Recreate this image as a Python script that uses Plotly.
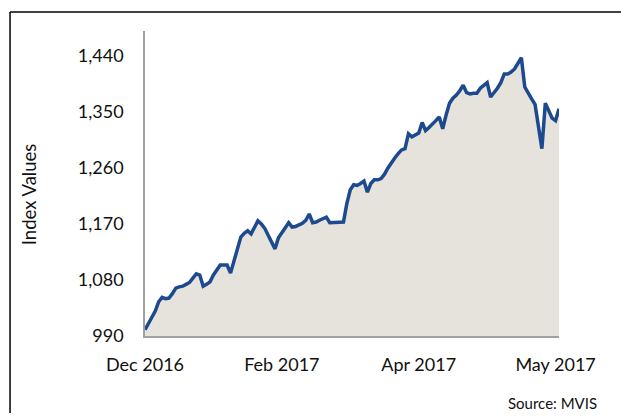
import plotly.graph_objects as go

# Index values, one per trading day, Dec 2016 -> May 2017
index_values = [
    1000, 1010, 1019, 1030, 1045, 1052, 1050, 1051, 1058, 1067,
    1069, 1070, 1073, 1076, 1083, 1090, 1088, 1070, 1073, 1077,
    1088, 1097, 1104, 1104, 1104, 1091, 1112, 1130, 1149, 1155,
    1159, 1154, 1164, 1175, 1170, 1163, 1152, 1140, 1130, 1148,
    1155, 1164, 1172, 1165, 1166, 1168, 1171, 1176, 1186, 1172,
    1173, 1176, 1179, 1181, 1172, 1172, 1173, 1173, 1173, 1203,
    1225, 1233, 1232, 1235, 1239, 1221, 1235, 1241, 1241, 1243,
    1250, 1260, 1269, 1276, 1283, 1289, 1291, 1315, 1310, 1313,
    1316, 1333, 1320, 1325, 1330, 1336, 1342, 1323, 1345, 1364,
    1372, 1377, 1384, 1393, 1381, 1379, 1380, 1380, 1388, 1393,
    1397, 1374, 1380, 1388, 1397, 1411, 1411, 1414, 1419, 1427,
    1437, 1390, 1379, 1371, 1362, 1328, 1291, 1364, 1352, 1340,
    1336, 1355,
]
point_index = list(range(len(index_values)))

x_tick_labels = ["Dec 2016", "Feb 2017", "Apr 2017", "May 2017"]
x_label_every = 40
y_tick_values = [990, 1080, 1170, 1260, 1350, 1440]
y_axis_range = [990, 1480]

FONT = "Lato, Carlito, Calibri, sans-serif"

fig = go.Figure()
fig.add_trace(go.Scatter(
    x=point_index,
    y=index_values,
    mode="lines",
    line=dict(color="#1d4a8f", width=3.5),
    fill="tozeroy",
    fillcolor="#e6e2dc",
    hoverinfo="skip",
    showlegend=False,
))

fig.update_layout(
    width=621,
    height=416,
    margin=dict(l=145, r=62, t=31, b=80),
    paper_bgcolor="white",
    plot_bgcolor="white",
    font=dict(family=FONT, size=18, color="#111111"),
    xaxis=dict(
        range=[0, len(index_values) - 1],
        tickvals=[i * x_label_every for i in range(len(x_tick_labels))],
        ticktext=x_tick_labels,
        showgrid=False,
        zeroline=False,
        showline=True,
        linecolor="#a0a0a0",
        linewidth=1.5,
        ticks="",
        ticklabelstandoff=12,
        automargin=False,
    ),
    yaxis=dict(
        range=y_axis_range,
        tickvals=y_tick_values,
        tickformat=",d",
        showgrid=False,
        zeroline=False,
        showline=True,
        linecolor="#a0a0a0",
        linewidth=1.5,
        ticks="",
        ticklabelstandoff=16,
        automargin=False,
    ),
    annotations=[
        dict(text="Index Values", textangle=-90, xref="paper", yref="paper",
             x=-0.280, y=0.462, showarrow=False, xanchor="center", yanchor="middle",
             font=dict(family=FONT, size=18.5, color="#111111")),
        dict(text="Source: MVIS", xref="paper", yref="paper",
             x=1.097, y=-0.22, showarrow=False, xanchor="right", yanchor="middle",
             font=dict(family=FONT, size=15, color="#111111")),
    ],
    shapes=[
        dict(type="line", xref="paper", yref="paper", x0=-0.326, x1=1.16,
             y0=1.0623, y1=1.0623, line=dict(color="black", width=1.5)),
        dict(type="line", xref="paper", yref="paper", x0=-0.326, x1=-0.326,
             y0=1.0623, y1=-0.2525, line=dict(color="black", width=1.5)),
    ],
)

fig.write_html(
    "out.html",
    config={"displayModeBar": False},
    post_script="document.body.style.margin='0';document.body.style.overflow='hidden';",
)
